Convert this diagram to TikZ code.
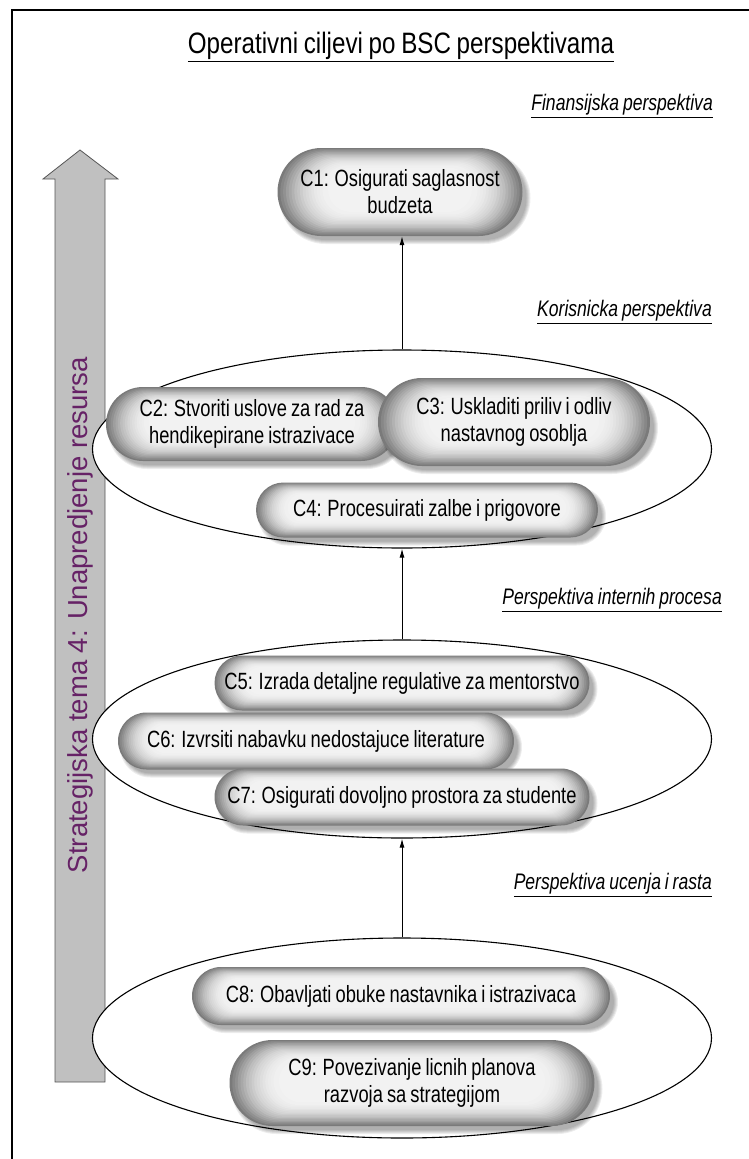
\documentclass[tikz,border=0pt]{standalone}
\usepackage{fontspec}
\setmainfont{Liberation Sans}
\newfontfamily\narrowsans[FakeStretch=0.78,WordSpace=0.8]{Liberation Sans}
\newfontfamily\titlesans[FakeStretch=0.82,WordSpace=0.85]{Liberation Sans}
\usetikzlibrary{shapes.geometric,arrows.meta}
\definecolor{themepurple}{HTML}{662266}
\definecolor{arrowgray}{HTML}{C0C0C0}
\definecolor{arrowedge}{HTML}{555555}

\tikzset{
  pilltext/.style={font=\narrowsans\fontsize{23.5}{27}\selectfont, align=center, inner sep=0pt, text=black},
  persp/.style={font=\narrowsans\itshape\fontsize{22.5}{26}\selectfont, anchor=east, inner sep=0pt},
  group/.style={ellipse, draw=black, fill=white, line width=1.1pt, inner sep=0pt},
  conn/.style={line width=1pt, -{Latex[length=9pt,width=5pt]}},
}

% shaded pill-shaped goal box: name, centre x, centre y, width, height, text
\newcommand\goalpill[6]{%
  \foreach \k in {0,...,4}{%
    \pgfmathsetmacro\gx{#4/2+3-\k}%
    \pgfmathsetmacro\gy{#5/2+2-\k}%
    \fill[black,opacity=0.07,rounded corners=\gy pt]
      ({#2+5-\gx},{#3+6-\gy}) rectangle ({#2+5+\gx},{#3+6+\gy});
  }%
  \foreach \i in {0,...,18}{%
    \pgfmathsetmacro\gy{#5/2*(1-0.5*\i/18)}%
    \pgfmathsetmacro\gx{#4/2-#5/2*1.15*\i/18}%
    \pgfmathsetmacro\lv{int(95-47*(1-\i/18)^2)}%
    \fill[white!\lv!black,rounded corners=\gy pt]
      ({#2-\gx},{#3-\gy-0.12*\i}) rectangle ({#2+\gx},{#3+\gy-0.12*\i});
  }%
  \node[pilltext, minimum width=#4pt, minimum height=#5pt] (#1) at (#2,#3) {#6};%
}

\begin{document}
\begin{tikzpicture}[x=1pt,y=-1pt]
\useasboundingbox (0,0) rectangle (749,1159);

% frame
\draw[line width=2pt] (12,1159) -- (12,10) -- (749,10);

% title and perspective labels
\node[font=\titlesans\fontsize{29.5}{34}\selectfont, inner sep=0pt] (title) at (401,47)
  {\underline{Operativni ciljevi po BSC perspektivama}};
\node[persp] (pfin) at (713,106) {\underline{Finansijska perspektiva}};
\node[persp] (pkor) at (712,312) {\underline{Korisnicka perspektiva}};
\node[persp] (pint) at (722,600) {\underline{Perspektiva internih procesa}};
\node[persp] (puc)  at (712,885) {\underline{Perspektiva ucenja i rasta}};

% strategic theme arrow (the perspective groups overlap its right edge)
\draw[fill=arrowgray, draw=arrowedge, line width=0.8pt]
  (55,1082) -- (55,179) -- (43,179) -- (80,150) -- (118,179) -- (105,179) -- (105,1082) -- cycle;

% perspective groups
\node[group, minimum width=619pt, minimum height=198pt] (e1) at (402,449) {};
\node[group, minimum width=619pt, minimum height=198pt] (e2) at (402,739) {};
\node[group, minimum width=619pt, minimum height=200pt] (e3) at (402,1038) {};

% links between perspectives
\draw[conn] (e3.north) -- (e2.south);
\draw[conn] (e2.north) -- (e1.south);

% goals
\goalpill{c1}{400}{192}{245}{88}{C1: Osigurati saglasnost\\budzeta}
\goalpill{c2}{252}{424}{292}{74}{C2: Stvoriti uslove za rad za\\hendikepirane istrazivace}
\goalpill{c3}{514}{422}{272}{88}{C3: Uskladiti priliv i odliv\\nastavnog osoblja}
\goalpill{c4}{427}{510}{342}{55}{C4: Procesuirati zalbe i prigovore}
\goalpill{c5}{402}{683}{375}{55}{C5: Izrada detaljne regulative za mentorstvo}
\goalpill{c6}{316}{741}{396}{57}{C6: Izvrsiti nabavku nedostajuce literature}
\goalpill{c7}{402}{797}{375}{57}{C7: Osigurati dovoljno prostora za studente}
\goalpill{c8}{401}{996}{418}{58}{C8: Obavljati obuke nastavnika i istrazivaca}
\goalpill{c9}{412}{1083}{365}{86}{C9: Povezivanje licnih planova\\razvoja sa strategijom}

\draw[conn] (e1.north) -- (e1.north |- c1.south);

\node[rotate=90, text=themepurple, font=\fontsize{27.5}{32}\selectfont, inner sep=0pt] (theme) at (80,615)
  {Strategijska tema 4: Unapredjenje resursa};
\end{tikzpicture}
\end{document}
